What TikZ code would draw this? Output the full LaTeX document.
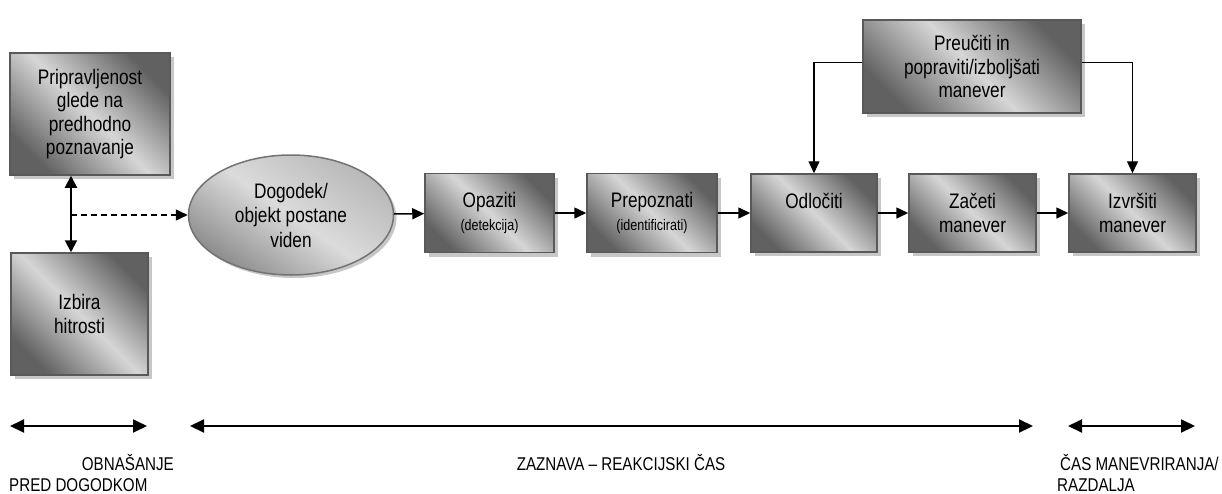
\documentclass[tikz,border=0pt]{standalone}
\usepackage{fontspec}
\setmainfont[FakeStretch=0.82]{Liberation Sans}
\usetikzlibrary{shapes.geometric, arrows.meta, shadows}
\tikzset{
>={Triangle[length=12pt,width=11pt]}, % filled arrow heads
stepbox/.style={rectangle, draw=black!65, line width=1.5pt, inner sep=0pt, align=center,
  top color=black!62, bottom color=black!62, middle color=black!16, shading angle=-45,
  font=\fontsize{21}{23.5}\selectfont,
  drop shadow={shadow xshift=4pt, shadow yshift=-4pt, fill=black!22, opacity=1}},
eventbox/.style={ellipse, draw=black!55, line width=1.5pt, inner sep=0pt, align=center,
  minimum width=205pt, minimum height=120pt,
  top color=black!28, bottom color=black!45, middle color=black!14, shading angle=-35,
  font=\fontsize{21}{24.5}\selectfont,
  drop shadow={shadow xshift=3pt, shadow yshift=-3pt, fill=black!22, opacity=1}},
flow/.style={->, line width=1.5pt},
span/.style={<->, line width=2pt, >={Triangle[length=14pt,width=13pt]}},
caption/.style={inner sep=0pt, font=\fontsize{18.5}{25}\selectfont},
}
\newcommand{\sub}[1]{\\{\fontsize{15.3}{17}\selectfont #1}}

\begin{document}
\begin{tikzpicture}[x=1pt, y=-1pt]
\useasboundingbox (0,0) rectangle (1222,493);
\node[stepbox, minimum width=160pt, minimum height=122pt] at (90,114) (prip) {Pripravljenost\\glede na\\predhodno\\poznavanje};
\node[stepbox, minimum width=137pt, minimum height=122pt] at (79.5,314) (izbira) {Izbira\\hitrosti};
\node[eventbox] at (291,215) (dog) {Dogodek/\\objekt postane\\viden};
\node[stepbox, minimum width=129pt, minimum height=79pt] at (489.5,213) (opaz) {Opaziti\sub{(detekcija)}};
\node[stepbox, minimum width=130pt, minimum height=79pt] at (652,213) (prep) {Prepoznati\sub{(identificirati)}};
\node[stepbox, minimum width=126pt, minimum height=78pt] at (814,213) (odl) {Odločiti\\\mbox{}};
\node[stepbox, minimum width=127pt, minimum height=78pt] at (972.5,213) (zac) {Začeti\\manever};
\node[stepbox, minimum width=127pt, minimum height=78pt] at (1132.5,213) (izv) {Izvršiti\\manever};
\node[stepbox, minimum width=218pt, minimum height=93pt] at (972,66.5) (preuc) {Preučiti in\\popraviti/izboljšati\\manever};
\coordinate (v) at (71,0);
% time spans
\coordinate (a1) at (10,426); \coordinate (a2) at (147,426);
\coordinate (b1) at (190,426); \coordinate (b2) at (1033,426);
\coordinate (c1) at (1068,426); \coordinate (c2) at (1195,426);
\node[caption, anchor=east] at (174,462) (obn) {OBNAŠANJE};
\node[caption, anchor=west] at (9,485) (pred) {PRED DOGODKOM};
\node[caption] at (621,462) (zaz) {ZAZNAVA – REAKCIJSKI ČAS};
\node[caption, anchor=west] at (1060,462) (cas) {ČAS MANEVRIRANJA/};
\node[caption, anchor=west] at (1057,485) (raz) {RAZDALJA};
\draw
(prip.south -| v) edge[span, >={Triangle[length=12pt,width=12pt]}] (izbira.north -| v)
(dog.west -| v) edge[flow, dash pattern=on 6pt off 4pt] (dog.west)
(dog) edge[flow] (opaz)
(opaz) edge[flow] (prep)
(prep) edge[flow] (odl)
(odl) edge[flow] (zac)
(zac) edge[flow] (izv)
(a1) edge[span] (a2)
(b1) edge[span] (b2)
(c1) edge[span] (c2)
;
\draw[flow, line width=1.3pt] ([yshift=4pt]preuc.west) -| (odl.north);
\draw[flow, line width=1.3pt] ([yshift=4pt]preuc.east) -| (izv.north);
\end{tikzpicture}
\end{document}
